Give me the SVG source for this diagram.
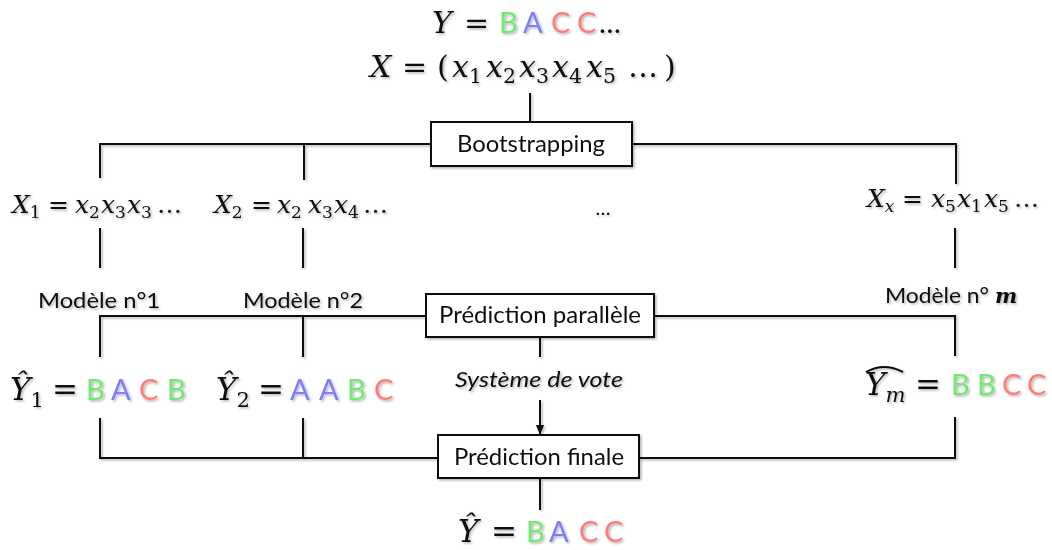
<svg xmlns="http://www.w3.org/2000/svg" width="1052" height="550" viewBox="0 0 1052 550">
  <defs>
    <filter id="soft" x="-5%" y="-5%" width="110%" height="110%">
      <feDropShadow dx="1.5" dy="1.5" stdDeviation="1.2" flood-color="#000" flood-opacity="0.3"/>
    </filter>
    <marker id="arrow" viewBox="0 0 10 10" refX="9" refY="5" markerWidth="5" markerHeight="5" orient="auto">
      <path d="M0,1 L10,5 L0,9 z" fill="#111"/>
    </marker>
  </defs>
  <style>
    .ln { stroke: #111; stroke-width: 2; fill: none; }
    .box { fill: #fff; stroke: #111; stroke-width: 2; }
    .lbl { font-family: Lato, "Liberation Sans", sans-serif; fill: #111; }
    .m { font-family: "DejaVu Serif", "Liberation Serif", serif; font-style: italic; fill: #111; }
    .up { font-style: normal; }
    .sub { font-size: 68%; font-style: normal; }
    .it { font-style: italic; }
    .seq { font-family: Lato, "Liberation Sans", sans-serif; font-style: normal; font-size: 29px; }
    .g { fill: #72e872; }
    .b { fill: #7c7cff; }
    .r { fill: #ff7c7c; }
  </style>
  <rect width="1052" height="550" fill="#fff"/>

  <g filter="url(#soft)">
    <!-- connectors -->
    <g id="connectors">
      <line class="ln" x1="530" y1="93" x2="530" y2="122"/>
      <path class="ln" d="M100,178 V144 H431 M632,144 H956 V184"/>
      <line class="ln" x1="304" y1="144" x2="304" y2="180"/>
      <line class="ln" x1="100" y1="228" x2="100" y2="268"/>
      <line class="ln" x1="303" y1="228" x2="303" y2="268"/>
      <line class="ln" x1="955" y1="228" x2="955" y2="268"/>
      <path class="ln" d="M100,357 V316 H426 M654,316 H955 V356"/>
      <line class="ln" x1="303" y1="316" x2="303" y2="357"/>
      <line class="ln" x1="540" y1="337" x2="540" y2="357"/>
      <line class="ln" x1="540" y1="400" x2="540" y2="434" marker-end="url(#arrow)"/>
      <path class="ln" d="M100,418 V458 H438 M639,458 H955 V417"/>
      <line class="ln" x1="303" y1="418" x2="303" y2="458"/>
      <line class="ln" x1="540" y1="478" x2="540" y2="510"/>
    </g>

    <!-- source sequences -->
    <g id="source">
      <text class="m" font-size="30" y="33"><tspan x="432">Y</tspan><tspan class="up" x="464">=</tspan><tspan class="seq g" x="499">B</tspan><tspan class="seq b" x="523">A</tspan><tspan class="seq r" x="551">C</tspan><tspan class="seq r" x="577">C</tspan><tspan class="seq" x="599">…</tspan></text>
      <text class="m" font-size="30" y="77"><tspan x="370">X</tspan><tspan class="up" x="402">=</tspan><tspan class="up" x="437">(</tspan><tspan x="452">x</tspan><tspan class="sub" dy="6">1</tspan><tspan dy="-6" x="486">x</tspan><tspan class="sub" dy="6">2</tspan><tspan dy="-6" x="519">x</tspan><tspan class="sub" dy="6">3</tspan><tspan dy="-6" x="552">x</tspan><tspan class="sub" dy="6">4</tspan><tspan dy="-6" x="586">x</tspan><tspan class="sub" dy="6">5</tspan><tspan class="up" dy="-6" x="628">…</tspan><tspan class="up" x="664">)</tspan></text>
    </g>

    <g id="bootstrapping">
      <rect class="box" x="431" y="122" width="201" height="44"/>
      <text class="lbl" x="531" y="152" font-size="23" text-anchor="middle" textLength="148" lengthAdjust="spacingAndGlyphs">Bootstrapping</text>
    </g>

    <!-- bootstrap samples -->
    <g id="sample-1">
      <text class="m" font-size="25" y="213"><tspan x="12">X</tspan><tspan class="sub" dy="5">1</tspan><tspan class="up" dy="-5" x="48">=</tspan><tspan x="75">x</tspan><tspan class="sub" dy="5">2</tspan><tspan dy="-5" x="101">x</tspan><tspan class="sub" dy="5">3</tspan><tspan dy="-5" x="127">x</tspan><tspan class="sub" dy="5">3</tspan><tspan class="up" dy="-5" x="157">…</tspan></text>
    </g>
    <g id="sample-2">
      <text class="m" font-size="25" y="213"><tspan x="214">X</tspan><tspan class="sub" dy="5">2</tspan><tspan class="up" dy="-5" x="251">=</tspan><tspan x="277">x</tspan><tspan class="sub" dy="5">2</tspan><tspan dy="-5" x="308">x</tspan><tspan class="sub" dy="5">3</tspan><tspan dy="-5" x="334">x</tspan><tspan class="sub" dy="5">4</tspan><tspan class="up" dy="-5" x="363">…</tspan></text>
    </g>
    <g id="sample-dots">
      <text class="lbl" x="603" y="215" font-size="20" text-anchor="middle">…</text>
    </g>
    <g id="sample-m">
      <text class="m" font-size="25" y="207"><tspan x="867">X</tspan><tspan class="sub it" dy="5">x</tspan><tspan class="up" dy="-5" x="902">=</tspan><tspan x="931">x</tspan><tspan class="sub" dy="5">5</tspan><tspan dy="-5" x="957">x</tspan><tspan class="sub" dy="5">1</tspan><tspan dy="-5" x="984">x</tspan><tspan class="sub" dy="5">5</tspan><tspan class="up" dy="-5" x="1014">…</tspan></text>
    </g>

    <!-- models -->
    <g id="model-1">
      <text class="lbl" x="38" y="308" font-size="21" textLength="122" lengthAdjust="spacingAndGlyphs">Modèle n°1</text>
    </g>
    <g id="model-2">
      <text class="lbl" x="243" y="308" font-size="21" textLength="120" lengthAdjust="spacingAndGlyphs">Modèle n°2</text>
    </g>
    <g id="model-m">
      <text class="lbl" x="885" y="303" font-size="21"><tspan textLength="104" lengthAdjust="spacingAndGlyphs">Modèle n°</tspan><tspan x="995" font-family="DejaVu Serif, serif" font-style="italic" font-weight="bold" font-size="21">m</tspan></text>
    </g>

    <g id="parallel-prediction">
      <rect class="box" x="426" y="294" width="228" height="43"/>
      <text class="lbl" x="540" y="323" font-size="23" text-anchor="middle" textLength="202" lengthAdjust="spacingAndGlyphs">Prédiction parallèle</text>
    </g>

    <!-- model outputs -->
    <g id="output-1">
      <text class="m" font-size="31" y="400"><tspan x="10">Ŷ</tspan><tspan class="sub" dy="7">1</tspan><tspan class="up" dy="-7" x="52">=</tspan><tspan class="seq g" x="86">B</tspan><tspan class="seq b" x="111">A</tspan><tspan class="seq r" x="139">C</tspan><tspan class="seq g" x="167">B</tspan></text>
    </g>
    <g id="output-2">
      <text class="m" font-size="31" y="400"><tspan x="216">Ŷ</tspan><tspan class="sub" dy="7">2</tspan><tspan class="up" dy="-7" x="258">=</tspan><tspan class="seq b" x="290">A</tspan><tspan class="seq b" x="319">A</tspan><tspan class="seq g" x="347">B</tspan><tspan class="seq r" x="374">C</tspan></text>
    </g>
    <g id="output-m">
      <path d="M866,372 Q884,362 903,372" stroke="#111" stroke-width="2" fill="none"/>
      <text class="m" font-size="31" y="395"><tspan x="865">Y</tspan><tspan class="sub it" dy="7">m</tspan><tspan class="up" dy="-7" x="915">=</tspan><tspan class="seq g" x="951">B</tspan><tspan class="seq g" x="977">B</tspan><tspan class="seq r" x="1002">C</tspan><tspan class="seq r" x="1027">C</tspan></text>
    </g>

    <g id="vote">
      <text class="lbl" x="539" y="387" font-size="22" font-style="italic" text-anchor="middle" textLength="168" lengthAdjust="spacingAndGlyphs">Système de vote</text>
    </g>

    <g id="final-prediction">
      <rect class="box" x="438" y="435" width="201" height="43"/>
      <text class="lbl" x="539" y="465" font-size="23" text-anchor="middle" textLength="170" lengthAdjust="spacingAndGlyphs">Prédiction finale</text>
    </g>

    <g id="final-output">
      <text class="m" font-size="31" y="542"><tspan x="458">Ŷ</tspan><tspan class="up" x="491">=</tspan><tspan class="seq g" x="526">B</tspan><tspan class="seq b" x="549">A</tspan><tspan class="seq r" x="579">C</tspan><tspan class="seq r" x="604">C</tspan></text>
    </g>
  </g>
</svg>
